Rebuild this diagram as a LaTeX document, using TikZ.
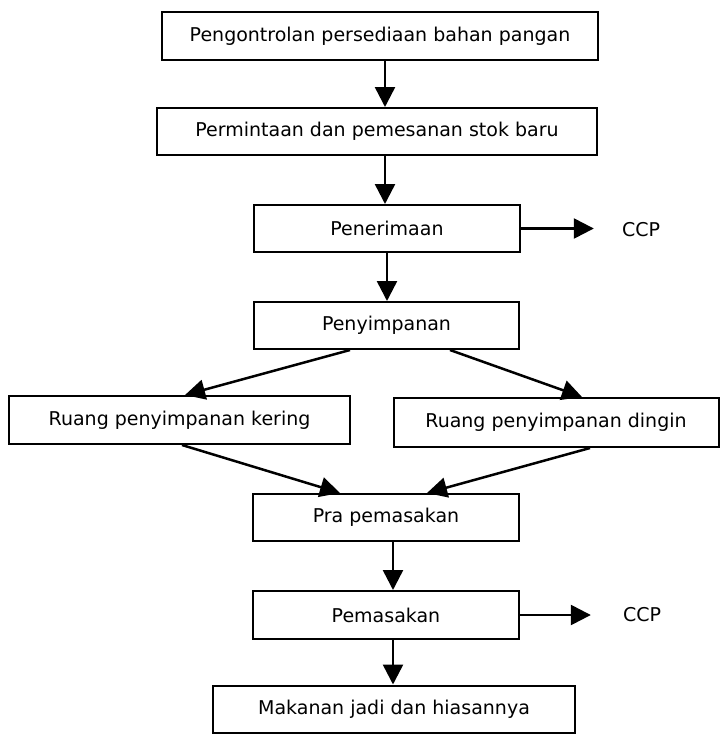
\documentclass[tikz,border=0pt]{standalone}
\usepackage{fontspec}
\setmainfont{DejaVu Sans}
\usetikzlibrary{arrows.meta}
\tikzset{
  box/.style={draw=black, line width=2pt, rectangle, inner sep=0pt, font=\fontsize{19}{22}\selectfont},
  arr/.style={line width=2.5pt, -{Triangle[length=20pt,width=20pt]}},
  lbl/.style={inner sep=0pt, font=\fontsize{19}{22}\selectfont}
}
\begin{document}
\begin{tikzpicture}[x=1pt,y=-1pt]
\useasboundingbox (0,0) rectangle (722,734);
\node[box, minimum width=436pt, minimum height=48pt] (b1) at (380,36) {Pengontrolan persediaan bahan pangan};
\node[box, minimum width=440pt, minimum height=47pt] (b2) at (377,131.5) {Permintaan dan pemesanan stok baru};
\node[box, minimum width=266pt, minimum height=47pt] (b3) at (387,228.5) {Penerimaan};
\node[box, minimum width=265pt, minimum height=47pt] (b4) at (386.5,325.5) {Penyimpanan};
\node[box, minimum width=341pt, minimum height=48pt] (b5) at (179.5,420) {Ruang penyimpanan kering};
\node[box, minimum width=325pt, minimum height=49pt] (b6) at (556,422.5) {Ruang penyimpanan dingin};
\node[box, minimum width=266pt, minimum height=47pt] (b7) at (386,517.5) {Pra pemasakan};
\node[box, minimum width=266pt, minimum height=48pt] (b8) at (386,615) {Pemasakan};
\node[box, minimum width=362pt, minimum height=47pt] (b9) at (394,709) {Makanan jadi dan hiasannya};
\node[lbl] (c1) at (641,230) {CCP};
\node[lbl] (c2) at (642,615) {CCP};
\coordinate (xa) at (385,0);
\coordinate (xb) at (387,0);
\coordinate (xc) at (393,0);
\draw[arr] (b1.south -| xa) -- (b2.north -| xa);
\draw[arr] (b2.south -| xa) -- (b3.north -| xa);
\draw[arr] (b3.south -| xb) -- (b4.north -| xb);
\draw[arr] ([xshift=-36.5pt]b4.south) -- ([xshift=5.5pt]b5.north);
\draw[arr] ([xshift=63.5pt]b4.south) -- ([xshift=26pt]b6.north);
\draw[arr] ([xshift=2.5pt]b5.south) -- ([xshift=-46pt]b7.north);
\draw[arr] ([xshift=34pt]b6.south) -- ([xshift=41pt]b7.north);
\draw[arr] (b7.south -| xc) -- (b8.north -| xc);
\draw[arr] (b8.south -| xc) -- (b9.north -| xc);
\draw[arr, shorten >=28pt] (b3.east) -- (b3.east -| c1.west);
\draw[arr, shorten >=32pt] (b8.east) -- (b8.east -| c2.west);
\end{tikzpicture}
\end{document}
